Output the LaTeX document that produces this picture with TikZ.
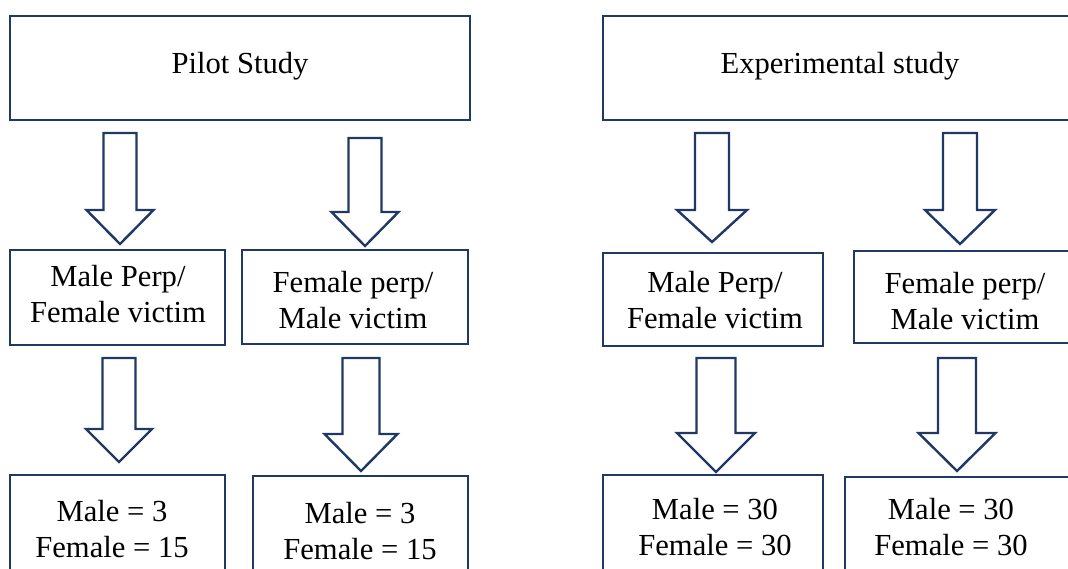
\documentclass[tikz,border=0pt]{standalone}
\usepackage{fontspec}
\setmainfont{Liberation Serif}
\definecolor{navy}{HTML}{203864}
\tikzset{
  frame/.style={draw=navy, line width=2.6pt, fill=white},
  txt/.style={inner sep=0pt, align=center, font=\fontsize{30.6}{36}\selectfont, text=black},
  blockarrow/.style={draw=navy, line width=2.4pt, fill=white, line join=miter}
}
% #1 centre x, #2 top y, #3 shaft bottom y, #4 tip y, #5 shaft half width, #6 head half width
\newcommand\blockarr[6]{%
  \draw[blockarrow] ({#1-#5},#2) -- ({#1+#5},#2) -- ({#1+#5},#3) -- ({#1+#6},#3)
    -- (#1,#4) -- ({#1-#6},#3) -- ({#1-#5},#3) -- cycle;}
\begin{document}
\begin{tikzpicture}[x=1pt,y=-1pt]
\useasboundingbox (0,0) rectangle (1068,568);
\clip (0,0) rectangle (1068,568);
% top boxes
\draw[frame] (10,16) rectangle (470,120);
\node[txt] (pilot) at (240,66) {Pilot Study};
\draw[frame] (603,16) rectangle (1090,120);
\node[txt] (exp) at (840,66) {Experimental study};
% first row of arrows
\blockarr{120}{133}{210}{244}{16.5}{33.5}
\blockarr{365}{138}{212}{246}{16.5}{33.5}
\blockarr{712}{133}{210}{242}{17}{35}
\blockarr{960}{133}{210}{244}{17}{35}
% middle boxes
\draw[frame] (10,250) rectangle (225,345);
\node[txt] (m1) at (118,294) {Male Perp/\\Female victim};
\draw[frame] (242,250) rectangle (468,344);
\node[txt] (m2) at (353,300) {Female perp/\\Male victim};
\draw[frame] (603,253) rectangle (823,346);
\node[txt] (m3) at (715,300) {Male Perp/\\Female victim};
\draw[frame] (854,251) rectangle (1090,343);
\node[txt] (m4) at (965,301) {Female perp/\\Male victim};
% second row of arrows
\blockarr{119}{358}{429}{462}{16.5}{33}
\blockarr{361}{358}{434}{471}{18.5}{36.5}
\blockarr{716}{358}{433}{472}{19.5}{39}
\blockarr{957}{358}{433}{471}{19}{38.5}
% bottom boxes
\draw[frame] (10,475) rectangle (225,600);
\node[txt] (b1) at (112,529) {Male = 3\\Female = 15};
\draw[frame] (253,476) rectangle (468,600);
\node[txt] (b2) at (360,531) {Male = 3\\Female = 15};
\draw[frame] (603,475) rectangle (823,600);
\node[txt] (b3) at (715,527) {Male = 30\\Female = 30};
\draw[frame] (845,477) rectangle (1090,600);
\node[txt] (b4) at (951,527) {Male = 30\\Female = 30};
\end{tikzpicture}
\end{document}
